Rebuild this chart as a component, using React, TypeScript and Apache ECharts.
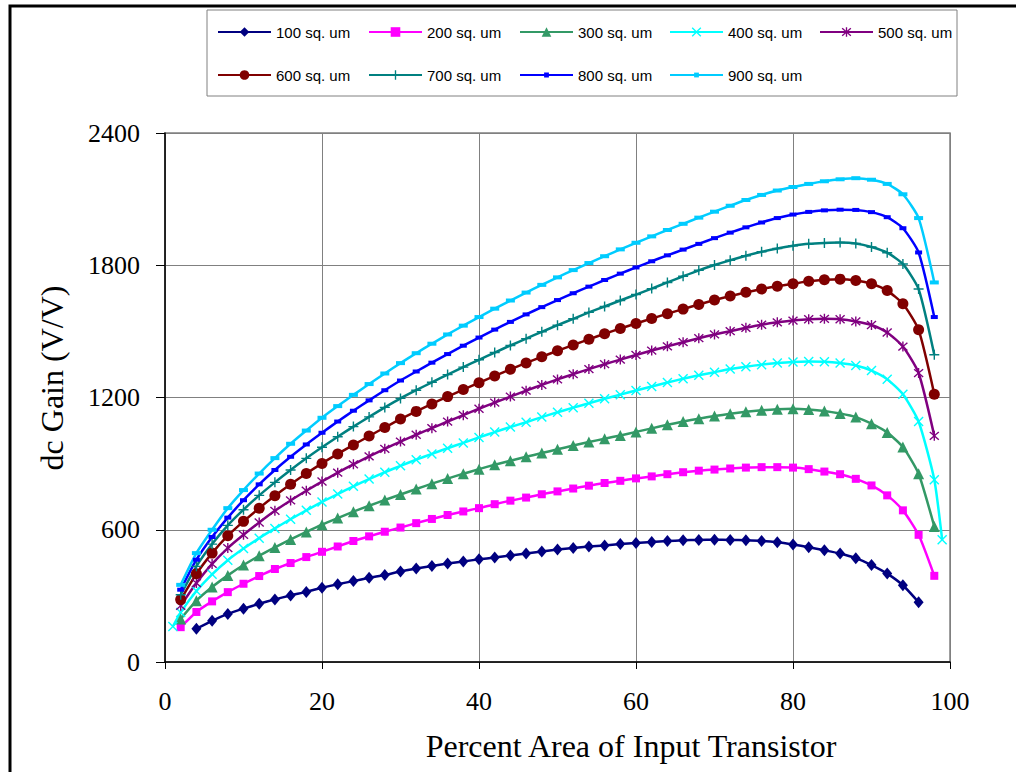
import React, { useEffect, useRef } from "react";
import * as echarts from "echarts";

// ---- Data ----
const X_100 = [4, 6, 8, 10, 12, 14, 16, 18, 20, 22, 24, 26, 28, 30, 32, 34, 36, 38, 40, 42, 44, 46, 48, 50, 52, 54, 56, 58, 60, 62, 64, 66, 68, 70, 72, 74, 76, 78, 80, 82, 84, 86, 88, 90, 92, 94, 96];
const X_STD = [2, 4, 6, 8, 10, 12, 14, 16, 18, 20, 22, 24, 26, 28, 30, 32, 34, 36, 38, 40, 42, 44, 46, 48, 50, 52, 54, 56, 58, 60, 62, 64, 66, 68, 70, 72, 74, 76, 78, 80, 82, 84, 86, 88, 90, 92, 94, 96, 98];
const X_400 = [1, 2, 4, 6, 8, 10, 12, 14, 16, 18, 20, 22, 24, 26, 28, 30, 32, 34, 36, 38, 40, 42, 44, 46, 48, 50, 52, 54, 56, 58, 60, 62, 64, 66, 68, 70, 72, 74, 76, 78, 80, 82, 84, 86, 88, 90, 92, 94, 96, 98, 99];

const GAIN_100 = [151, 187, 218, 242, 264, 284, 302, 318, 337, 353, 367, 382, 395, 411, 424, 436, 447, 456, 466, 474, 483, 492, 501, 510, 517, 524, 529, 535, 540, 544, 549, 552, 554, 555, 554, 552, 549, 543, 533, 521, 507, 492, 471, 440, 401, 348, 271];
const GAIN_200 = [158, 227, 275, 317, 355, 390, 422, 449, 476, 500, 524, 549, 570, 591, 610, 630, 649, 667, 683, 698, 716, 732, 746, 761, 774, 787, 800, 812, 822, 833, 842, 852, 861, 868, 873, 878, 882, 884, 884, 882, 875, 864, 852, 831, 801, 756, 688, 577, 391];
const GAIN_300 = [195, 278, 340, 393, 440, 482, 520, 556, 590, 623, 653, 682, 709, 735, 760, 785, 809, 832, 854, 875, 895, 913, 931, 948, 965, 982, 998, 1013, 1028, 1044, 1060, 1076, 1091, 1104, 1116, 1126, 1135, 1142, 1147, 1149, 1146, 1139, 1127, 1111, 1081, 1041, 975, 854, 615];
const GAIN_400 = [161, 225, 322, 398, 462, 515, 562, 606, 648, 688, 726, 762, 797, 830, 861, 890, 918, 944, 970, 994, 1019, 1043, 1066, 1088, 1111, 1133, 1154, 1174, 1194, 1213, 1232, 1250, 1268, 1285, 1301, 1315, 1329, 1340, 1349, 1356, 1361, 1363, 1362, 1356, 1345, 1322, 1283, 1215, 1091, 827, 555];
const GAIN_500 = [255, 358, 445, 517, 577, 633, 686, 733, 777, 819, 859, 897, 933, 967, 1000, 1031, 1061, 1091, 1120, 1149, 1177, 1204, 1231, 1257, 1282, 1306, 1329, 1351, 1372, 1393, 1413, 1432, 1451, 1469, 1486, 1501, 1516, 1530, 1541, 1549, 1555, 1557, 1555, 1545, 1529, 1495, 1431, 1311, 1026];
const GAIN_600 = [283, 400, 494, 573, 638, 698, 754, 806, 855, 901, 944, 985, 1025, 1064, 1102, 1137, 1171, 1204, 1236, 1267, 1298, 1328, 1357, 1385, 1412, 1438, 1464, 1489, 1513, 1536, 1558, 1580, 1601, 1622, 1642, 1660, 1677, 1692, 1705, 1716, 1727, 1734, 1737, 1731, 1716, 1685, 1625, 1507, 1215];
const GAIN_700 = [305, 434, 535, 620, 691, 756, 815, 871, 924, 974, 1022, 1068, 1112, 1155, 1196, 1233, 1269, 1304, 1338, 1371, 1404, 1436, 1467, 1498, 1528, 1557, 1586, 1613, 1640, 1667, 1694, 1722, 1750, 1777, 1801, 1823, 1843, 1861, 1876, 1888, 1897, 1901, 1903, 1899, 1883, 1857, 1806, 1692, 1394];
const GAIN_800 = [328, 464, 567, 655, 734, 806, 871, 931, 987, 1040, 1091, 1140, 1187, 1233, 1277, 1318, 1358, 1397, 1435, 1472, 1508, 1543, 1577, 1610, 1642, 1673, 1703, 1733, 1762, 1790, 1818, 1845, 1871, 1897, 1923, 1948, 1972, 1994, 2014, 2030, 2042, 2049, 2052, 2051, 2041, 2018, 1968, 1858, 1565];
const GAIN_900 = [350, 494, 600, 698, 780, 855, 925, 990, 1050, 1108, 1161, 1212, 1261, 1309, 1356, 1401, 1444, 1486, 1526, 1565, 1603, 1640, 1676, 1711, 1745, 1778, 1810, 1841, 1872, 1902, 1931, 1960, 1988, 2016, 2043, 2070, 2096, 2119, 2139, 2155, 2169, 2181, 2190, 2195, 2188, 2169, 2122, 2014, 1722];

const SERIES_NAMES = ["100 sq. um", "200 sq. um", "300 sq. um", "400 sq. um", "500 sq. um", "600 sq. um", "700 sq. um", "800 sq. um", "900 sq. um"];
const X_TICKS = [0, 20, 40, 60, 80, 100];
const Y_TICKS = [0, 600, 1200, 1800, 2400];
const X_TITLE = "Percent Area of Input Transistor";
const Y_TITLE = "dc Gain (V/V)";

// ---- Styles ----
const X_SHAPE = "path://M0,1 L1,0 L5,4 L9,0 L10,1 L6,5 L10,9 L9,10 L5,6 L1,10 L0,9 L4,5 Z";
const STAR_SHAPE = "path://M0,1.6 L1,0.6 L5,4.2 L9,0.6 L10,1.6 L6,5 L10,8.4 L9,9.4 L5,5.8 L1,9.4 L0,8.4 L4,5 Z M4.3,0 L5.7,0 L5.7,10 L4.3,10 Z";
const PLUS_SHAPE = "path://M4.3,0 L5.7,0 L5.7,4.3 L10,4.3 L10,5.7 L5.7,5.7 L5.7,10 L4.3,10 L4.3,5.7 L0,5.7 L0,4.3 L4.3,4.3 Z";

const STYLES = [
  { color: "#000080", symbol: "diamond", size: [10, 12] },
  { color: "#FF00FF", symbol: "rect", size: 8 },
  { color: "#339966", symbol: "triangle", size: 11 },
  { color: "#00FFFF", symbol: X_SHAPE, size: 10 },
  { color: "#800080", symbol: STAR_SHAPE, size: 10 },
  { color: "#800000", symbol: "circle", size: 11 },
  { color: "#008080", symbol: PLUS_SHAPE, size: 10 },
  { color: "#0000FF", symbol: "rect", size: [7, 4] },
  { color: "#00CCFF", symbol: "rect", size: [9, 4] },
];

const XS = [X_100, X_STD, X_STD, X_400, X_STD, X_STD, X_STD, X_STD, X_STD];
const YS = [GAIN_100, GAIN_200, GAIN_300, GAIN_400, GAIN_500, GAIN_600, GAIN_700, GAIN_800, GAIN_900];

const LEGEND_LEFT = [217, 368, 519, 669, 819];
const LEGEND_ROW_TOP = [24, 67];

export default function App() {
  const ref = useRef<HTMLDivElement>(null);

  useEffect(() => {
    document.body.style.margin = "0";
    if (!ref.current) return;
    const chart = echarts.init(ref.current, null, { renderer: "svg" });

    const series = SERIES_NAMES.map((name, i) => ({
      name,
      type: "line",
      data: XS[i].map((x, j) => [x, YS[i][j]]),
      symbol: STYLES[i].symbol,
      symbolSize: STYLES[i].size,
      smooth: 0.2,
      lineStyle: { color: STYLES[i].color, width: 2.5 },
      itemStyle: { color: STYLES[i].color },
      emphasis: { disabled: true },
    }));

    const legends = SERIES_NAMES.map((name, i) => {
      const row = i < 5 ? 0 : 1;
      const col = i < 5 ? i : i - 5;
      const h = i >= 7 ? 6 : 12;
      return {
        data: [name],
        left: LEGEND_LEFT[col],
        top: LEGEND_ROW_TOP[row],
        padding: 0,
        itemWidth: 53,
        itemHeight: h,
        itemGap: 0,
        selectedMode: false,
        textStyle: { fontFamily: "Liberation Sans", fontSize: 15, color: "#000", height: 16, lineHeight: 16 },
      };
    });

    const serif = "Liberation Serif";

    chart.setOption({
      animation: false,
      backgroundColor: "#fff",
      grid: {
        left: 165,
        right: 66,
        top: 133,
        bottom: 110,
        show: true,
        borderColor: "#808080",
        borderWidth: 1.5,
      },
      legend: legends,
      xAxis: {
        type: "value",
        min: X_TICKS[0],
        max: X_TICKS[X_TICKS.length - 1],
        interval: 20,
        axisLine: { show: true, lineStyle: { color: "#000", width: 1.5 } },
        axisTick: { show: true, length: 7, lineStyle: { color: "#000" } },
        splitLine: { show: true, lineStyle: { color: "#808080", width: 1 } },
        axisLabel: { fontFamily: serif, fontSize: 26, color: "#000", margin: 26, formatter: (v: number) => String(v) },
      },
      yAxis: {
        type: "value",
        min: Y_TICKS[0],
        max: Y_TICKS[Y_TICKS.length - 1],
        interval: 600,
        axisLine: { show: true, lineStyle: { color: "#000", width: 1.5 } },
        axisTick: { show: true, length: 9, lineStyle: { color: "#000" } },
        splitLine: { show: true, lineStyle: { color: "#808080", width: 1 } },
        axisLabel: { fontFamily: serif, fontSize: 26, color: "#000", margin: 25, formatter: (v: number) => String(v) },
      },
      graphic: [
        {
          type: "rect",
          silent: true,
          shape: { x: 10, y: 6, width: 1200, height: 1000 },
          style: { fill: "none", stroke: "#000", lineWidth: 3 },
        },
        {
          type: "rect",
          silent: true,
          shape: { x: 207, y: 10, width: 750, height: 86 },
          style: { fill: "none", stroke: "#808080", lineWidth: 1 },
        },
        {
          type: "text",
          silent: true,
          x: 631,
          y: 746,
          style: {
            text: X_TITLE,
            font: `32px "${serif}"`,
            fill: "#000",
            align: "center",
            verticalAlign: "middle",
            textAlign: "center",
            textVerticalAlign: "middle",
          },
        },
        {
          type: "text",
          silent: true,
          x: 52,
          y: 378,
          rotation: Math.PI / 2,
          style: {
            text: Y_TITLE,
            font: `32px "${serif}"`,
            fill: "#000",
            align: "center",
            verticalAlign: "middle",
            textAlign: "center",
            textVerticalAlign: "middle",
          },
        },
      ],
      series,
    });

    return () => chart.dispose();
  }, []);

  return <div ref={ref} style={{ width: 1016, height: 772 }} />;
}
